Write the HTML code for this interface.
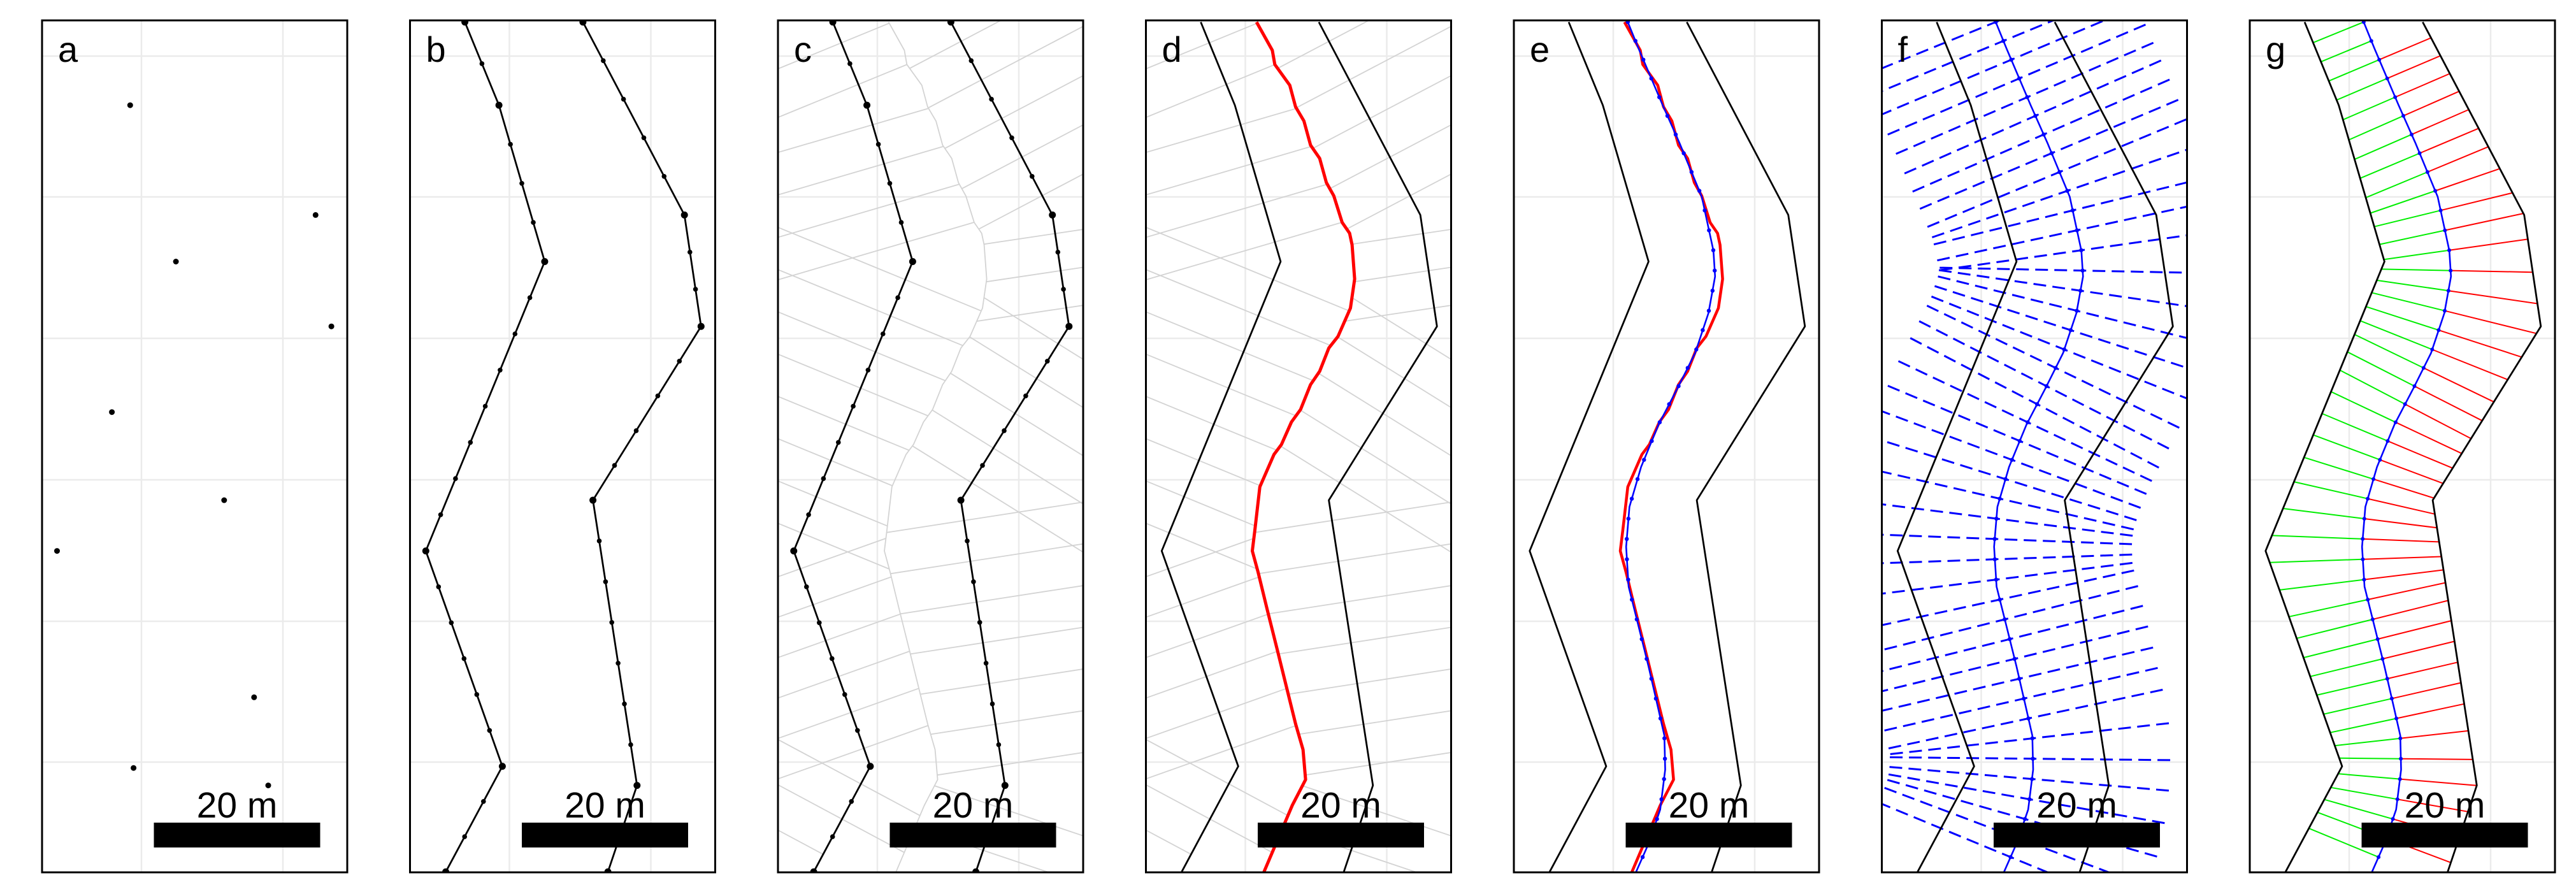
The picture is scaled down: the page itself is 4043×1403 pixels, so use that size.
<!DOCTYPE html>
<html><head><meta charset="utf-8"><style>
html,body{margin:0;padding:0;background:#fff;width:4043px;height:1403px;overflow:hidden;}
svg{display:block;}
</style></head><body>
<svg id="fig" xmlns="http://www.w3.org/2000/svg" width="4043" height="1403" viewBox="0 0 4043 1403"></svg>
<script>
// ---- data (metres, panel-local coordinates; y downward) ----
const leftBankX = [6.6, 10.7, 16.2, 1.9, 11.1, 4.3];
const leftBankY = [0.2, 10.2, 29.0, 63.8, 89.7, 102.4];
const rightBankX = [20.8, 33.0, 35.0, 22.0, 27.3, 23.8];
const rightBankY = [0.2, 23.4, 36.8, 57.7, 92.0, 102.4];
const centerX = [13.7,15.0,17.9,19.9,22.6,24.0,24.2,23.4,21.8,19.7,17.4,15.3,13.9,13.5,13.8,15.0,16.2,17.3,18.1,18.2,17.6,16.2,14.7];
const centerY = [0.2,3.4,10.2,14.7,21.2,27.7,30.8,35.2,40.0,44.2,48.6,53.7,58.5,63.3,68.1,72.9,77.7,82.5,86.0,90.1,94.9,99.0,102.4];
const medialX = [13.3,15.2,15.5,17.3,18.0,19.0,19.8,20.9,21.7,22.6,23.6,24.5,24.8,25.1,24.6,23.1,22.0,20.9,19.8,18.6,17.5,16.3,15.4,13.7,13.1,12.8,13.5,14.6,15.8,18.0,18.9,19.2,17.6,14.2];
const medialY = [0.2,3.6,5.3,7.8,10.4,12.1,15.0,16.6,19.5,21.1,24.3,25.6,27.0,31.1,34.6,38.0,39.4,42.2,43.8,46.8,48.3,51.0,52.2,56.1,61.3,63.8,66.4,70.9,75.7,84.6,87.7,91.3,94.4,102.4];
const sparseX = [10.6,32.9,16.1,34.8,8.4,21.9,1.8,25.5,11.0,27.2];
const sparseY = [10.2,23.4,29.0,36.8,47.1,57.7,63.8,81.4,89.9,92.0];
const panelLabels = ['a','b','c','d','e','f','g'];
const scaleLabel = '20 m';
const scaleLength = 20;

// ---- layout ----
const NS='http://www.w3.org/2000/svg';
const svg=document.getElementById('fig');
const S=13.05, PW=479, PH=1337, PT=32, P0=66, PSTEP=577.5;
const sx=m=>m*S, sy=m=>m*S;
function el(tag,attrs,parent){const e=document.createElementNS(NS,tag);for(const k in attrs)e.setAttribute(k,attrs[k]);(parent||svg).appendChild(e);return e;}
function pts(xs,ys){return xs.map((x,i)=>[x,ys[i]]);}
function pathD(p){return p.map((q,i)=>(i?'L':'M')+sx(q[0]).toFixed(1)+' '+sy(q[1]).toFixed(1)).join('');}
function densify(p,step){const out=[p[0]];for(let i=1;i<p.length;i++){const a=p[i-1],b=p[i];const L=Math.hypot(b[0]-a[0],b[1]-a[1]);const n=Math.max(1,Math.round(L/step));for(let k=1;k<=n;k++)out.push([a[0]+(b[0]-a[0])*k/n,a[1]+(b[1]-a[1])*k/n]);}return out;}
function resample(p,step){const out=[p[0]];let acc=0;for(let i=1;i<p.length;i++){const a=p[i-1],b=p[i];const L=Math.hypot(b[0]-a[0],b[1]-a[1]);let d=step-acc;while(d<=L){out.push([a[0]+(b[0]-a[0])*d/L,a[1]+(b[1]-a[1])*d/L]);d+=step;}acc=L-(d-step);}return out;}
// intersect segment o->o+d*maxT with polyline; returns nearest t or null
function rayHit(o,d,poly,maxT){let best=null;maxT=maxT||40;for(let i=1;i<poly.length;i++){const a=poly[i-1],b=poly[i];const ex=b[0]-a[0],ey=b[1]-a[1];const den=d[0]*ey-d[1]*ex;if(Math.abs(den)<1e-9)continue;const wx=a[0]-o[0],wy=a[1]-o[1];const t=(wx*ey-wy*ex)/den;const u=(wx*d[1]-wy*d[0])/den;if(t>1e-6&&t<maxT&&u>=-1e-6&&u<=1+1e-6&&(best===null||t<best))best=t;}return best;}

const LB=pts(leftBankX,leftBankY), RB=pts(rightBankX,rightBankY);
const CL=pts(centerX,centerY), MD=pts(medialX,medialY);
const LBd=densify(LB,4.8), RBd=densify(RB,4.8);
const CS=resample(CL,2.45);
function normals(p){return p.map((q,i)=>{const a=p[Math.max(0,i-1)],b=p[Math.min(p.length-1,i+1)];let tx=b[0]-a[0],ty=b[1]-a[1];const L=Math.hypot(tx,ty)||1;tx/=L;ty/=L;return[-ty,tx];});}
const CN=normals(CS);

const defs=el('defs',{});
const cp=el('clipPath',{id:'pclip'},defs);el('rect',{x:0,y:0,width:PW,height:PH},cp);

function line(g,a,b,c,w,dash,name){const l=el('line',{x1:sx(a[0]).toFixed(1),y1:sy(a[1]).toFixed(1),x2:sx(b[0]).toFixed(1),y2:sy(b[1]).toFixed(1),stroke:c,'stroke-width':w},g);if(dash)l.setAttribute('stroke-dasharray',dash);return l;}
function poly(g,p,c,w,name){const e=el('path',{d:pathD(p),fill:'none',stroke:c,'stroke-width':w,'stroke-linejoin':'round'},g);return e;}
function dots(g,p,r,c,name){p.forEach(q=>{const d=el('circle',{cx:sx(q[0]).toFixed(1),cy:sy(q[1]).toFixed(1),r:r,fill:c},g);});}
function bisectors(g,bank,inwardSign,c,w){for(let i=1;i<bank.length;i++){const a=bank[i-1],b=bank[i];const m=[(a[0]+b[0])/2,(a[1]+b[1])/2];let tx=b[0]-a[0],ty=b[1]-a[1];const L=Math.hypot(tx,ty);tx/=L;ty/=L;let d=[-ty,tx];if(d[0]*inwardSign<0)d=[ty,-tx];const t=rayHit(m,d,MD,25);const inner=t!==null?[m[0]+d[0]*t,m[1]+d[1]*t]:m;const outer=[m[0]-d[0]*40,m[1]-d[1]*40];line(g,inner,outer,c,w,null,'voronoi-edge');}}

panelLabels.forEach((lab,pi)=>{
  const px=P0+pi*PSTEP;
  const outer=el('g',{transform:`translate(${px},${PT})`});
  
  
  el('rect',{x:0,y:0,width:PW,height:PH,fill:'#fff'},outer);
  const g=el('g',{'clip-path':'url(#pclip)'},outer);
  [156,378].forEach(x=>{const l=el('line',{x1:x,y1:0,x2:x,y2:PH,stroke:'#ebebeb','stroke-width':2.5},g);});
  [56,277,499,721,943,1164].forEach(y=>{const l=el('line',{x1:0,y1:y,x2:PW,y2:y,stroke:'#ebebeb','stroke-width':2.5},g);});
  if(lab==='a'){dots(g,pts(sparseX,sparseY),4.5,'#000','bank-point');}
  if(lab==='b'||lab==='c'){
    if(lab==='c'){bisectors(g,LBd,1,'#d3d3d3',1.8);bisectors(g,RBd,-1,'#d3d3d3',1.8);poly(g,MD,'#d3d3d3',1.8,'voronoi-medial');}
    poly(g,LB,'#000',2.8,'left-bank');poly(g,RB,'#000',2.8,'right-bank');dots(g,LBd,3.8,'#000','bank-point');dots(g,RBd,3.8,'#000','bank-point');dots(g,LB,5.5,'#000','bank-vertex');dots(g,RB,5.5,'#000','bank-vertex');}
  if(lab==='d'){bisectors(g,LBd,1,'#d3d3d3',1.8);bisectors(g,RBd,-1,'#d3d3d3',1.8);poly(g,LB,'#000',2.8,'left-bank');poly(g,RB,'#000',2.8,'right-bank');poly(g,MD,'#ff0000',5,'raw-centerline');}
  if(lab==='e'){poly(g,LB,'#000',2.8,'left-bank');poly(g,RB,'#000',2.8,'right-bank');poly(g,MD,'#ff0000',4.5,'raw-centerline');poly(g,CL,'#0000ff',2.6,'smooth-centerline');dots(g,CS,3.2,'#0000ff','centerline-point');}
  if(lab==='f'){CS.forEach((p,i)=>{const n=CN[i];line(g,[p[0]+n[0]*17.2,p[1]+n[1]*17.2],[p[0]-n[0]*17.2,p[1]-n[1]*17.2],'#0000ff',3,'20 10','normal-line');});poly(g,LB,'#000',2.8,'left-bank');poly(g,RB,'#000',2.8,'right-bank');poly(g,CL,'#0000ff',2.6,'smooth-centerline');dots(g,CS,3.2,'#0000ff','centerline-point');}
  if(lab==='g'){
    CS.forEach((p,i)=>{
      const n=CN[i];
      const dA=[n[0],n[1]], dB=[-n[0],-n[1]];
      const tL1=rayHit(p,dA,LB,25), tL2=rayHit(p,dB,LB,25);
      const tR1=rayHit(p,dA,RB,25), tR2=rayHit(p,dB,RB,25);
      const dl=tL1!==null?dA:dB, tl=tL1!==null?tL1:tL2;
      const dr=tR1!==null?dA:dB, tr=tR1!==null?tR1:tR2;
      if(tl!==null) line(g,p,[p[0]+dl[0]*tl,p[1]+dl[1]*tl],'#00ee00',2,null,'left-transect');
      if(tr!==null) line(g,p,[p[0]+dr[0]*tr,p[1]+dr[1]*tr],'#ff0000',2,null,'right-transect');
    });
    poly(g,LB,'#000',2.8,'left-bank');poly(g,RB,'#000',2.8,'right-bank');poly(g,CL,'#0000ff',2.6,'smooth-centerline');dots(g,CS,3,'#0000ff','centerline-point');}
  const bx0=175.5, bw=sx(scaleLength);
  const bar=el('rect',{x:bx0,y:1259,width:bw.toFixed(1),height:39,fill:'#000'},outer);
  
  const st=el('text',{x:(bx0+bw/2).toFixed(1),y:1251,'text-anchor':'middle','font-family':'Liberation Sans, sans-serif','font-size':57,fill:'#000'},outer);
  st.textContent=scaleLabel;
  const lt=el('text',{x:25,y:65,'font-family':'Liberation Sans, sans-serif','font-size':56,fill:'#000'},outer);
  lt.textContent=lab;
  const fr=el('rect',{x:0,y:0,width:PW,height:PH,fill:'none',stroke:'#000','stroke-width':3},outer);
  
});
</script>
</body></html>
